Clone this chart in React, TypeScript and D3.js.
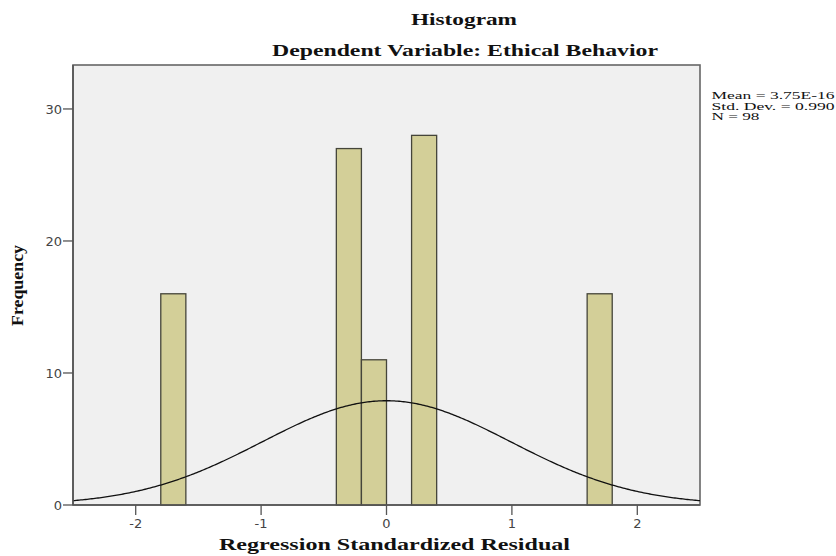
import React from "react";
import * as d3 from "d3";

const binStarts = [-1.8, -0.4, -0.2, 0.2, 1.6];
const binWidth = 0.2;
const frequencies = [16, 27, 11, 28, 16];
const xTicks = [-2, -1, 0, 1, 2];
const yTicks = [0, 10, 20, 30];
const statLines = ["Mean = 3.75E-16", "Std. Dev. = 0.990", "N = 98"];
const statWidths = [123, 123, 48];
const curveMean = 3.75e-16;
const curveSd = 0.99;
const curveN = 98;

const W = 836, H = 556;
const L = 73, R = 700, T = 65, B = 505;

export default function App() {
  const x = d3.scaleLinear().domain([-2.5, 2.5]).range([L, R]);
  const y = d3.scaleLinear().domain([0, 33.33]).range([B, T]);
  const pdf = (v: number) =>
    (curveN * binWidth) / (curveSd * Math.sqrt(2 * Math.PI)) *
    Math.exp(-0.5 * ((v - curveMean) / curveSd) ** 2);
  const pts = d3.range(0, 401).map((i) => -2.5 + (5 * i) / 400);
  const line = d3.line<number>().x((d) => x(d)).y((d) => y(pdf(d)));
  const serif = "'Liberation Serif', 'DejaVu Serif', serif";
  const sans = "'DejaVu Sans', Verdana, sans-serif";
  return (
    <svg width={W} height={H} style={{ position: "absolute", left: 0, top: 0, background: "#fff" }}>
      <text x={464} y={25} textAnchor="middle" fontFamily={serif} fontWeight="bold" fontSize={17}
        textLength={106} lengthAdjust="spacingAndGlyphs" fill="#111">Histogram</text>
      <text x={465} y={56} textAnchor="middle" fontFamily={serif} fontWeight="bold" fontSize={17}
        textLength={386} lengthAdjust="spacingAndGlyphs" fill="#111">Dependent Variable: Ethical Behavior</text>
      <rect x={L} y={T} width={R - L} height={B - T} fill="#f0f0f0" stroke="#666" strokeWidth={1.6} />
      {binStarts.map((s, i) => (
        <rect key={i} x={x(s)} y={y(frequencies[i])} width={x(s + binWidth) - x(s)} height={B - y(frequencies[i])}
          fill="#d3cf98" stroke="#45453a" strokeWidth={1.3} />
      ))}
      <path d={line(pts) || ""} fill="none" stroke="#111" strokeWidth={1.3} />
      <line x1={L} x2={L} y1={T} y2={B} stroke="#555" strokeWidth={1.6} />
      <line x1={L} x2={R} y1={B} y2={B} stroke="#555" strokeWidth={1.6} />
      {yTicks.map((t) => (
        <g key={t}>
          <line x1={L - 10} x2={L} y1={y(t)} y2={y(t)} stroke="#555" strokeWidth={1.3} />
          <text x={L - 11} y={y(t) + 5} textAnchor="end" fontFamily={sans} fontSize={13} fill="#444">{t}</text>
        </g>
      ))}
      {xTicks.map((t) => (
        <g key={t}>
          <line x1={x(t)} x2={x(t)} y1={B} y2={B + 10} stroke="#555" strokeWidth={1.3} />
          <text x={x(t)} y={B + 23} textAnchor="middle" fontFamily={sans} fontSize={13} fill="#444">{t}</text>
        </g>
      ))}
      <text transform={`translate(23,${285.5}) rotate(-90)`} textAnchor="middle" fontFamily={serif} fontWeight="bold" fontSize={16}
        textLength={81} lengthAdjust="spacingAndGlyphs" fill="#111">Frequency</text>
      <text x={394.5} y={550} textAnchor="middle" fontFamily={serif} fontWeight="bold" fontSize={17}
        textLength={351} lengthAdjust="spacingAndGlyphs" fill="#111">Regression Standardized Residual</text>
      {statLines.map((s, i) => (
        <text key={i} x={711.5} y={99 + i * 10.5} fontFamily={serif} fontSize={11}
          textLength={statWidths[i]} lengthAdjust="spacingAndGlyphs" fill="#111">{s}</text>
      ))}
    </svg>
  );
}
